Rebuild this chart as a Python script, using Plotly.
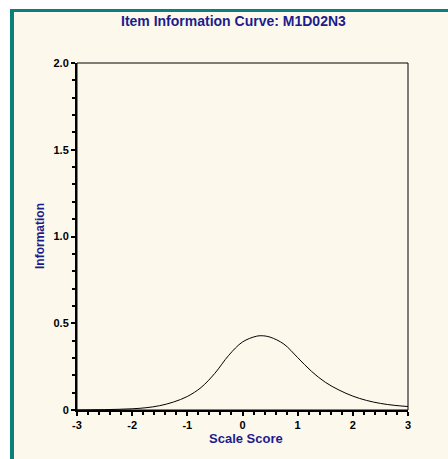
import plotly.graph_objects as go

# Data
scale_score = [-3.0, -2.75, -2.5, -2.25, -2.0, -1.75, -1.5, -1.25, -1.0, -0.75,
               -0.5, -0.25, 0.0, 0.25, 0.35, 0.5, 0.75, 1.0, 1.25, 1.5,
               1.75, 2.0, 2.25, 2.5, 2.75, 3.0]
information = [0.000, 0.001, 0.002, 0.004, 0.007, 0.013, 0.025, 0.046, 0.078, 0.130,
               0.212, 0.315, 0.392, 0.425, 0.428, 0.420, 0.380, 0.302, 0.223, 0.160,
               0.115, 0.080, 0.055, 0.038, 0.027, 0.020]

x_tickvals = [-3, -2, -1, 0, 1, 2, 3]
x_ticktext = ["-3", "-2", "-1", "0", "1", "2", "3"]
y_tickvals = [0, 0.5, 1.0, 1.5, 2.0]
y_ticktext = ["0", "0.5", "1.0", "1.5", "2.0"]

title_text = "Item Information Curve: M1D02N3"
x_title = "Scale Score"
y_title = "Information"

NAVY = "#1c1c8c"
TEAL = "#0b7f7a"
CREAM = "#fdf8ec"
FONT = "Liberation Sans, Arial, sans-serif"

W, H = 448, 459
L, R, T, B = 77, 40, 63, 49
PW, PH = W - L - R, H - T - B


def px_x(p):
    return (p - L) / PW


def px_y(p):
    return (H - B - p) / PH


fig = go.Figure()
fig.add_trace(go.Scatter(
    x=scale_score, y=information, mode="lines",
    line=dict(color="black", width=1, shape="spline", smoothing=1.0),
    hoverinfo="skip", showlegend=False,
))

shapes = [
    # teal frame
    dict(type="rect", xref="paper", yref="paper", layer="below",
         x0=px_x(10), x1=px_x(470), y0=px_y(480), y1=px_y(9),
         fillcolor=TEAL, line=dict(width=0)),
    # cream panel
    dict(type="rect", xref="paper", yref="paper", layer="below",
         x0=px_x(14), x1=px_x(470), y0=px_y(480), y1=px_y(12),
         fillcolor=CREAM, line=dict(width=0)),
    # thin box around plot
    dict(type="rect", xref="paper", yref="paper", layer="above",
         x0=0, x1=1, y0=0, y1=1, line=dict(color="black", width=1),
         fillcolor="rgba(0,0,0,0)"),
]

annotations = [
    dict(text="<b>" + title_text + "</b>", xref="paper", yref="paper",
         x=px_x(233), y=px_y(21), xanchor="center", yanchor="middle",
         showarrow=False, font=dict(family=FONT, size=14, color=NAVY)),
    dict(text="<b>" + x_title + "</b>", xref="paper", yref="paper",
         x=px_x(246), y=px_y(439), xanchor="center", yanchor="middle",
         showarrow=False, font=dict(family=FONT, size=13, color=NAVY)),
    dict(text="<b>" + y_title + "</b>", xref="paper", yref="paper",
         x=px_x(40), y=px_y(236), xanchor="center", yanchor="middle",
         textangle=-90, showarrow=False,
         font=dict(family=FONT, size=12, color=NAVY)),
]

fig.update_layout(
    width=W, height=H,
    margin=dict(l=L, r=R, t=T, b=B, pad=0),
    paper_bgcolor="white",
    plot_bgcolor="white",
    shapes=shapes,
    annotations=annotations,
    font=dict(family=FONT, color="black"),
)

fig.update_xaxes(
    range=[-3, 3], tickmode="array", tickvals=x_tickvals, ticktext=x_ticktext,
    showgrid=False, zeroline=False, showline=True, linecolor="black", linewidth=2,
    ticks="outside", ticklen=4, tickwidth=1.5, tickcolor="black",
    tickfont=dict(family=FONT, size=11, color="black", weight="bold"),
    minor=dict(dtick=0.2, tick0=-3, ticks="outside", ticklen=3, tickwidth=1.5, tickcolor="black", showgrid=False),
)
fig.update_yaxes(
    range=[0, 2], tickmode="array", tickvals=y_tickvals, ticktext=y_ticktext,
    showgrid=False, zeroline=False, showline=True, linecolor="black", linewidth=2,
    ticks="outside", ticklen=4, tickwidth=1.5, tickcolor="black",
    tickfont=dict(family=FONT, size=11, color="black", weight="bold"),
    minor=dict(dtick=0.1, tick0=0, ticks="outside", ticklen=3, tickwidth=1.5, tickcolor="black", showgrid=False),
)

fig.write_html("out.html")
